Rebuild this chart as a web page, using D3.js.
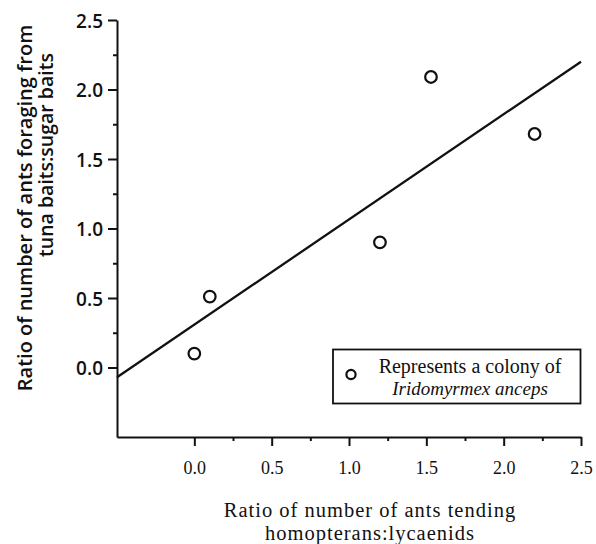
<!DOCTYPE html>
<html>
<head>
<meta charset="utf-8">
<script src="https://cdn.jsdelivr.net/npm/d3@7"></script>
<style>
body{margin:0;background:#fff;}
svg{display:block;}
</style>
</head>
<body>
<div id="chart"></div>
<script>
// colonies of Iridomyrmex anceps
var colonyX=[0.0,0.1,1.2,1.53,2.2];
var colonyY=[0.1,0.51,0.9,2.09,1.68];
// fitted line at both ends
var fitX=[-0.5,2.5];
var fitY=[-0.07,2.2];
var majorTicks=[0,0.5,1,1.5,2,2.5];
var minorTicks=[0.25,0.75,1.25,1.75,2.25];
var tickLabels=["0.0","0.5","1.0","1.5","2.0","2.5"];
var yTitle=["Ratio of number of ants foraging from","tuna baits:sugar baits"];
var xTitle=["Ratio of number of ants tending","homopterans:lycaenids"];
var legendText=["Represents a colony of","Iridomyrmex anceps"];

var width=596,height=544;
var sans='"Open Sans","DejaVu Sans",sans-serif';
var serif='"Liberation Serif","DejaVu Serif",serif';

var svg=d3.select('#chart').append('svg')
    .attr('width',width)
    .attr('height',height);

var x=d3.scaleLinear().domain([-0.5,2.5]).range([117,581]);
var y=d3.scaleLinear().domain([-0.5,2.5]).range([437,20]);

function fmt(d){return tickLabels[majorTicks.indexOf(d)];}

// y axis
var gy=svg.append('g').attr('transform','translate('+x(-0.5)+',0)')
    .call(d3.axisLeft(y).tickValues(majorTicks).tickSize(9).tickSizeOuter(0).tickPadding(5).tickFormat(fmt));
svg.append('g').attr('transform','translate('+x(-0.5)+',0)')
    .call(d3.axisLeft(y).tickValues(minorTicks).tickSize(4).tickFormat(''))
    .select('.domain').remove();
gy.selectAll('text')
    .attr('font-family',sans)
    .attr('font-weight',600)
    .attr('font-size',19)
    .attr('dy','0.38em')
    .attr('fill','#111');

// x axis
var gx=svg.append('g').attr('transform','translate(0,'+y(-0.5)+')')
    .call(d3.axisBottom(x).tickValues(majorTicks).tickSize(9).tickSizeOuter(0).tickPadding(15).tickFormat(fmt));
svg.append('g').attr('transform','translate(0,'+y(-0.5)+')')
    .call(d3.axisBottom(x).tickValues(minorTicks).tickSize(4).tickFormat(''))
    .select('.domain').remove();
gx.selectAll('text')
    .attr('font-family',serif)
    .attr('font-size',18)
    .attr('fill','#111');

svg.selectAll('.domain,.tick line')
    .attr('stroke','#111')
    .attr('stroke-width',2);

// fitted line
var line=d3.line().x(function(d){return x(d[0]);}).y(function(d){return y(d[1]);});
svg.append('path')
    .datum(d3.zip(fitX,fitY))
    .attr('d',line)
    .attr('fill','none')
    .attr('stroke','#111')
    .attr('stroke-width',2.3);

// points
svg.selectAll('.colony')
    .data(d3.zip(colonyX,colonyY))
    .enter().append('circle')
    .attr('class','colony')
    .attr('cx',function(d){return x(d[0]);})
    .attr('cy',function(d){return y(d[1]);})
    .attr('r',5.8)
    .attr('fill','#fff')
    .attr('stroke','#111')
    .attr('stroke-width',2.2);

// legend
var lg=svg.append('g');
lg.append('rect')
    .attr('x',333).attr('y',349.5)
    .attr('width',247.5).attr('height',54)
    .attr('fill','#fff')
    .attr('stroke','#111')
    .attr('stroke-width',1.8);
lg.append('circle')
    .attr('cx',351).attr('cy',374.5).attr('r',4.6)
    .attr('fill','none').attr('stroke','#111').attr('stroke-width',2.2);
lg.append('text')
    .attr('x',470).attr('y',373)
    .attr('text-anchor','middle')
    .attr('font-family',serif).attr('font-size',20).attr('fill','#111')
    .text(legendText[0]);
lg.append('text')
    .attr('x',470).attr('y',395)
    .attr('text-anchor','middle')
    .attr('font-family',serif).attr('font-size',19).attr('font-style','italic').attr('fill','#111')
    .text(legendText[1]);

// axis titles
svg.append('text')
    .attr('transform','translate(32,208) rotate(-90)')
    .attr('text-anchor','middle')
    .attr('font-family',sans).attr('font-weight',600).attr('font-size',20).attr('fill','#111')
    .text(yTitle[0]);
svg.append('text')
    .attr('transform','translate(53,155) rotate(-90)')
    .attr('text-anchor','middle')
    .attr('font-family',sans).attr('font-weight',600).attr('font-size',19.5).attr('fill','#111')
    .text(yTitle[1]);
svg.append('text')
    .attr('x',370).attr('y',516.5)
    .attr('text-anchor','middle')
    .attr('font-family',serif).attr('font-size',20.5).attr('letter-spacing',1).attr('fill','#111')
    .text(xTitle[0]);
svg.append('text')
    .attr('x',370).attr('y',539.5)
    .attr('text-anchor','middle')
    .attr('font-family',serif).attr('font-size',20.5).attr('letter-spacing',1).attr('fill','#111')
    .text(xTitle[1]);
</script>
</body>
</html>
